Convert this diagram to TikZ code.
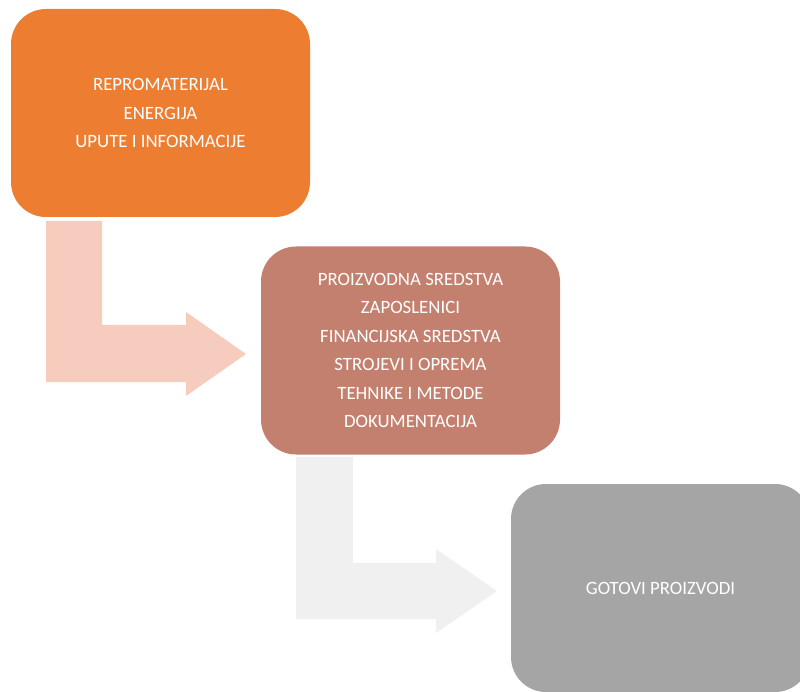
\documentclass[tikz,border=0pt]{standalone}
\usepackage{fontspec}
\setmainfont{Carlito}
\usetikzlibrary{backgrounds}
\pgfdeclarelayer{edgelayer}
\pgfdeclarelayer{nodelayer}
\pgfsetlayers{edgelayer,nodelayer,main}
\definecolor{boxorange}{RGB}{237,125,49}
\definecolor{boxrose}{RGB}{196,128,111}
\definecolor{boxgrey}{RGB}{165,165,165}
\definecolor{arrowpeach}{RGB}{246,204,191}
\definecolor{arrowgrey}{RGB}{240,240,240}
\tikzset{font=\fontsize{18.8}{28.4}\selectfont}
\tikzstyle{stage}=[rectangle,rounded corners=35pt,minimum width=299pt,minimum height=208pt,align=center,text=white,inner sep=0pt]
\tikzstyle{bent}=[draw=none]

\begin{document}
\begin{tikzpicture}[x=1pt,y=-1pt]
	\useasboundingbox (0,0) rectangle (800,692);
	\clip (0,0) rectangle (800,692);
	\begin{pgfonlayer}{nodelayer}
		\node [style=stage,fill=boxorange] (0) at (160.5,113) {REPROMATERIJAL\\ENERGIJA\\UPUTE I INFORMACIJE};
		\node [style=stage,fill=boxrose] (1) at (410.5,350.5) {PROIZVODNA SREDSTVA\\ZAPOSLENICI\\FINANCIJSKA SREDSTVA\\STROJEVI I OPREMA\\TEHNIKE I METODE\\DOKUMENTACIJA};
		\node [style=stage,fill=boxgrey] (2) at (660.5,588) {GOTOVI PROIZVODI};
	\end{pgfonlayer}
	\begin{pgfonlayer}{edgelayer}
		\fill[style=bent,arrowpeach] (46,221) -- (102,221) -- (102,325) -- (186,325) -- (186,312)
			-- (246,354) -- (186,396) -- (186,382) -- (46,382) -- cycle;
		\fill[style=bent,arrowgrey] (296,457) -- (353,457) -- (353,563) -- (436,563) -- (436,549)
			-- (497,591) -- (436,633) -- (436,619) -- (296,619) -- cycle;
	\end{pgfonlayer}
\end{tikzpicture}
\end{document}
